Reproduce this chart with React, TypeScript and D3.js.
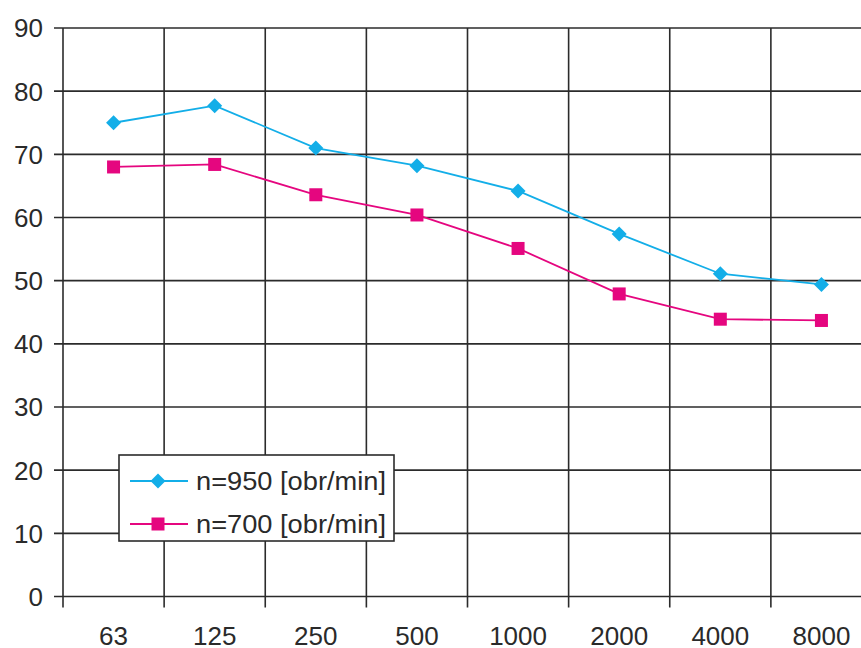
import React from "react";
import * as d3 from "d3";

const categories = ["63", "125", "250", "500", "1000", "2000", "4000", "8000"];
const series950 = [75.0, 77.7, 71.0, 68.2, 64.2, 57.4, 51.1, 49.4];
const series700 = [68.0, 68.4, 63.6, 60.4, 55.1, 47.9, 43.9, 43.7];
const yTicks = [0, 10, 20, 30, 40, 50, 60, 70, 80, 90];
const seriesNames = ["n=950 [obr/min]", "n=700 [obr/min]"];
const seriesColors = ["#13AEE8", "#E5067F"];

const W = 861;
const H = 648;
const left = 63;
const right = 872;
const top = 28;
const bottom = 596.5;

export default function App() {
  const x = d3.scaleBand<string>().domain(categories).range([left, right]).padding(0);
  const y = d3.scaleLinear().domain([0, 90]).range([bottom, top]);
  const cx = (c: string) => (x(c) as number) + x.bandwidth() / 2;

  const line = d3
    .line<number>()
    .x((_, i) => cx(categories[i]))
    .y((d) => y(d));

  const grid = "#2b2b2b";
  const font = "'Liberation Sans', Arial, sans-serif";
  const diamond = (px: number, py: number, r: number) =>
    `M${px},${py - r}L${px + r},${py}L${px},${py + r}L${px - r},${py}Z`;

  const boundaries = categories.map((c) => x(c) as number).concat([right]);

  return (
    <div style={{ position: "absolute", left: 0, top: 0 }}>
      <svg width={W} height={H} style={{ display: "block", background: "#fff" }}>
        {yTicks.map((t) => (
          <line key={"h" + t} x1={left - 9} x2={W} y1={y(t)} y2={y(t)} stroke={grid} strokeWidth={1.6} />
        ))}
        {boundaries.map((b, i) => (
          <line key={"v" + i} x1={b} x2={b} y1={top} y2={bottom + 11} stroke={grid} strokeWidth={1.6} />
        ))}
        {yTicks.map((t) => (
          <text
            key={"yl" + t}
            x={43}
            y={y(t)}
            dy="0.36em"
            textAnchor="end"
            fontFamily={font}
            fontSize={26}
            fill="#2a2a2a"
          >
            {t}
          </text>
        ))}
        {categories.map((c) => (
          <text
            key={"xl" + c}
            x={cx(c)}
            y={645}
            textAnchor="middle"
            fontFamily={font}
            fontSize={26}
            fill="#2a2a2a"
          >
            {c}
          </text>
        ))}
        <path d={line(series950) || ""} fill="none" stroke={seriesColors[0]} strokeWidth={1.8} />
        <path d={line(series700) || ""} fill="none" stroke={seriesColors[1]} strokeWidth={1.8} />
        {series950.map((v, i) => (
          <path key={"d" + i} d={diamond(cx(categories[i]), y(v), 7.5)} fill={seriesColors[0]} />
        ))}
        {series700.map((v, i) => (
          <rect
            key={"s" + i}
            x={cx(categories[i]) - 6.5}
            y={y(v) - 6.5}
            width={13}
            height={13}
            fill={seriesColors[1]}
          />
        ))}
        <g>
          <rect x={119} y={455} width={275} height={86} fill="#fff" stroke={grid} strokeWidth={1.6} />
          {seriesNames.map((name, i) => {
            const ly = 481 + i * 43;
            return (
              <g key={"lg" + i}>
                <line x1={130} x2={188} y1={ly} y2={ly} stroke={seriesColors[i]} strokeWidth={1.8} />
                {i === 0 ? (
                  <path d={diamond(158, ly, 7.5)} fill={seriesColors[0]} />
                ) : (
                  <rect x={151.5} y={ly - 6.5} width={13} height={13} fill={seriesColors[1]} />
                )}
                <text
                  x={196}
                  y={ly}
                  dy="0.36em"
                  fontFamily={font}
                  fontSize={26}
                  fill="#2a2a2a"
                  textLength={190}
                  lengthAdjust="spacingAndGlyphs"
                >
                  {name}
                </text>
              </g>
            );
          })}
        </g>
      </svg>
    </div>
  );
}
